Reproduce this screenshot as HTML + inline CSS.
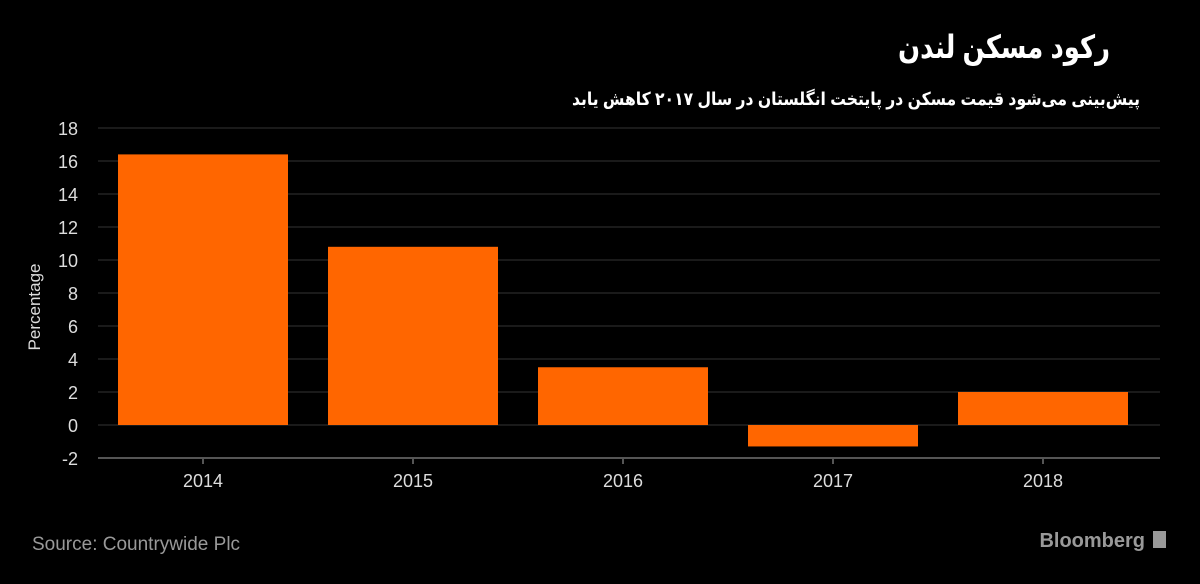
<!DOCTYPE html>
<html><head><meta charset="utf-8"><style>
html,body{margin:0;padding:0;background:#000;width:1200px;height:584px;overflow:hidden}
svg{display:block}
</style></head><body>
<svg id="chart" width="1200" height="584" viewBox="0 0 1200 584" xmlns="http://www.w3.org/2000/svg">
<rect width="1200" height="584" fill="#000"/>
<text x="1110" y="58" text-anchor="end" fill="#fff" font-size="32" font-weight="bold" textLength="212" lengthAdjust="spacingAndGlyphs" font-family="'Liberation Sans','DejaVu Sans',sans-serif">رکود مسکن لندن</text>
<text x="1140" y="105" text-anchor="end" fill="#fff" font-size="18" font-weight="bold" textLength="568" lengthAdjust="spacingAndGlyphs" font-family="'Liberation Sans','DejaVu Sans',sans-serif">پیش‌بینی می‌شود قیمت مسکن در پایتخت انگلستان در سال ۲۰۱۷ کاهش یابد</text>
<g id="grid"></g>
<g id="bars"></g>
<g id="axes"></g>
<text transform="translate(40,307) rotate(-90)" text-anchor="middle" fill="#ddd" font-size="17" font-family="'Liberation Sans',sans-serif">Percentage</text>
<text x="32" y="550" fill="#999" font-size="19" font-family="'Liberation Sans',sans-serif">Source: Countrywide Plc</text>
<text x="1145" y="547" text-anchor="end" fill="#999" font-size="20" font-weight="bold" font-family="'Liberation Sans',sans-serif">Bloomberg</text>
<rect x="1153" y="531" width="13" height="17" fill="#999"/>
</svg>
<script>
const categories = ["2014","2015","2016","2017","2018"];
const values = [16.4, 10.8, 3.5, -1.3, 2.0];
const yTicks = [-2,0,2,4,6,8,10,12,14,16,18];

const NS="http://www.w3.org/2000/svg";
const plotL=98, plotR=1160, bandW=210, barW=170;
const yMin=-2, yMax=18, yTop=128, yBot=458;
function y(v){return yBot-(v-yMin)/(yMax-yMin)*(yBot-yTop);}
function xc(i){return plotL+bandW*(i+0.5);}
function mk(tag,attrs,parent){const e=document.createElementNS(NS,tag);for(const k in attrs)e.setAttribute(k,attrs[k]);parent.appendChild(e);return e;}
const grid=document.getElementById('grid'), bars=document.getElementById('bars'), axes=document.getElementById('axes');
yTicks.forEach(t=>{
  if(t!==yMin){
    const l=mk('line',{x1:plotL,x2:plotR,y1:y(t),y2:y(t),stroke:'#222','stroke-width':1.5},grid);
    
    
  }
  const tx=mk('text',{x:78,y:y(t)+7,'text-anchor':'end',fill:'#ddd','font-size':18,'font-family':"'Liberation Sans',sans-serif"},axes);
  tx.textContent=t;
  
  
});
const ax=mk('line',{x1:plotL,x2:plotR,y1:yBot,y2:yBot,stroke:'#555','stroke-width':2},axes);


categories.forEach((c,i)=>{
  const v=values[i];
  const r=mk('rect',{x:xc(i)-barW/2,y:Math.min(y(v),y(0)),width:barW,height:Math.abs(y(v)-y(0)),fill:'#ff6600'},bars);
  
  
  const tk=mk('line',{x1:xc(i),x2:xc(i),y1:yBot,y2:yBot+6,stroke:'#555','stroke-width':2},axes);
  
  
  const tx=mk('text',{x:xc(i),y:487,'text-anchor':'middle',fill:'#ddd','font-size':18,'font-family':"'Liberation Sans',sans-serif"},axes);
  tx.textContent=c;
  
  
});
</script>
</body></html>
